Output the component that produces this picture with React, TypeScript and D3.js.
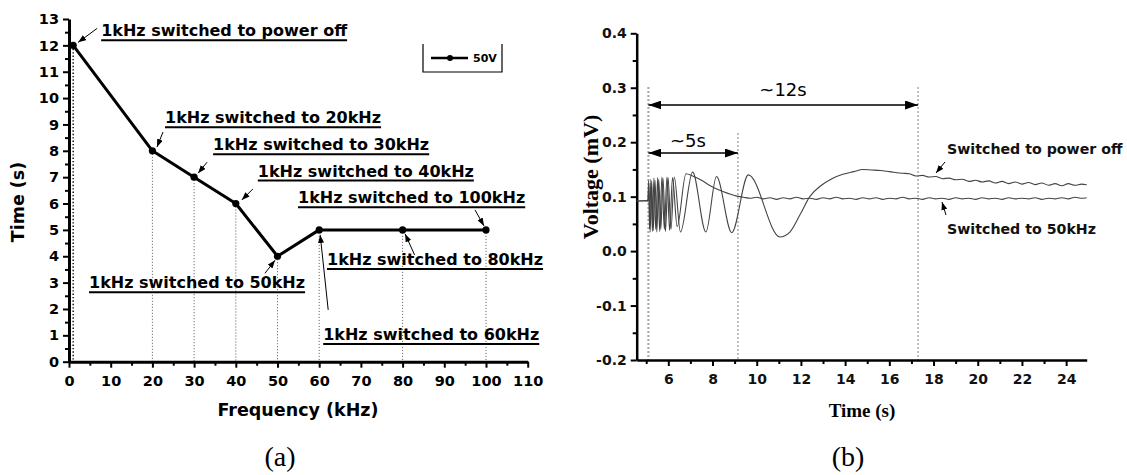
import React, { useEffect, useRef } from "react";
import * as d3 from "d3";

// panel (a): switching time vs frequency
const freqs = [1, 20, 30, 40, 50, 60, 80, 100];
const switchTime = [12, 8, 7, 6, 4, 5, 5, 5];
const freqNotes = [
  "1kHz switched to power off",
  "1kHz switched to 20kHz",
  "1kHz switched to 30kHz",
  "1kHz switched to 40kHz",
  "1kHz switched to 50kHz",
  "1kHz switched to 60kHz",
  "1kHz switched to 80kHz",
  "1kHz switched to 100kHz",
];
const seriesName = "50V";

// panel (b): voltage traces (time s, voltage mV)
const powerOff: [number, number][] = [
  [4.57, 0.092], [5.0, 0.093], [5.08, 0.092],
  [5.12, 0.125], [5.18, 0.035], [5.25, 0.128], [5.32, 0.038], [5.4, 0.13], [5.48, 0.035],
  [5.57, 0.132], [5.66, 0.04], [5.76, 0.134], [5.87, 0.036], [5.99, 0.135], [6.12, 0.04],
  [6.27, 0.136], [6.55, 0.035], [7.1, 0.145], [7.7, 0.035], [8.18, 0.137], [8.87, 0.034],
  [9.62, 0.14], [11.05, 0.026], [11.5, 0.035], [12.0, 0.07], [12.4, 0.1], [12.9, 0.12],
  [13.4, 0.133], [13.9, 0.141], [14.4, 0.146], [14.8, 0.15], [15.2, 0.149], [15.6, 0.148],
  [16.0, 0.146], [16.6, 0.143], [16.9, 0.142], [17.2, 0.138], [17.5, 0.139], [17.8, 0.136],
  [18.1, 0.137], [18.4, 0.133], [18.7, 0.134], [19.0, 0.131], [19.3, 0.132], [19.6, 0.128],
  [19.9, 0.13], [20.2, 0.127], [20.5, 0.129], [20.8, 0.125], [21.1, 0.128], [21.4, 0.124],
  [21.7, 0.127], [22.0, 0.123], [22.3, 0.126], [22.6, 0.122], [22.9, 0.125], [23.2, 0.121],
  [23.5, 0.124], [23.8, 0.12], [24.1, 0.124], [24.4, 0.121], [24.7, 0.123], [24.93, 0.122],
];
const to50k: [number, number][] = [
  [4.57, 0.092], [5.0, 0.092], [5.08, 0.093],
  [5.11, 0.13], [5.15, 0.04], [5.21, 0.132], [5.28, 0.036], [5.35, 0.134], [5.43, 0.04],
  [5.52, 0.135], [5.61, 0.036], [5.71, 0.136], [5.82, 0.04], [5.94, 0.136], [6.06, 0.038],
  [6.19, 0.135], [6.4, 0.045], [6.8, 0.142], [7.1, 0.138], [7.5, 0.13], [7.9, 0.12],
  [8.3, 0.112], [8.7, 0.106], [9.1, 0.101], [9.4, 0.099],
  [9.7, 0.097], [10.0, 0.099], [10.3, 0.096], [10.6, 0.098], [10.9, 0.095], [11.2, 0.098],
  [11.5, 0.096], [11.8, 0.099], [12.1, 0.096], [12.4, 0.097], [12.7, 0.095], [13.0, 0.098],
  [13.3, 0.096], [13.6, 0.099], [13.9, 0.096], [14.2, 0.097], [14.5, 0.095], [14.8, 0.098],
  [15.1, 0.096], [15.4, 0.098], [15.7, 0.095], [16.0, 0.097], [16.3, 0.096], [16.6, 0.099],
  [16.9, 0.096], [17.2, 0.097], [17.5, 0.095], [17.8, 0.098], [18.1, 0.096], [18.4, 0.097],
  [18.7, 0.095], [19.0, 0.098], [19.3, 0.096], [19.6, 0.097], [19.9, 0.095], [20.2, 0.098],
  [20.5, 0.096], [20.8, 0.097], [21.1, 0.095], [21.4, 0.098], [21.7, 0.096], [22.0, 0.097],
  [22.3, 0.096], [22.6, 0.098], [22.9, 0.095], [23.2, 0.097], [23.5, 0.096], [23.8, 0.098],
  [24.1, 0.096], [24.4, 0.099], [24.7, 0.097], [24.93, 0.098],
];
const markTimes = [5.1, 9.15, 17.3];
const spanNotes = ["~12s", "~5s"];
const traceNames = ["Switched to power off", "Switched to 50kHz"];

// label offsets (px) relative to each point: text left/baseline, arrow start, arrow end
const noteLayout = [
  { dx: 28, dy: -9, ax: 24, ay: -17, bx: 5, by: -3 },
  { dx: 12.6, dy: -27.5, ax: 10.6, ay: -18.8, bx: 4.6, by: -3.8 },
  { dx: 19, dy: -27, ax: 13, ay: -15, bx: 4, by: -4 },
  { dx: 22, dy: -27, ax: 17, ay: -14.5, bx: 6, by: -3.5 },
  { dx: -188.5, dy: 32, ax: -12.5, ay: 17, bx: -2.5, by: 4 },
  { dx: 4, dy: 110, ax: 9, ay: 80, bx: 1, by: 5 },
  { dx: -75.6, dy: 35, ax: 12, ay: 25, bx: 2.5, by: 4 },
  { dx: -188, dy: -26.6, ax: -11, ay: -20, bx: -2, by: -4 },
];

const W = 1127, H = 475;
const sans = "'DejaVu Sans', sans-serif";
const serif = "'Liberation Serif', 'Times New Roman', serif";

export default function App() {
  const ref = useRef<SVGSVGElement>(null);

  useEffect(() => {
    const svg = d3.select(ref.current);
    svg.selectAll("*").remove();

    const defs = svg.append("defs");
    defs.append("marker").attr("id", "small").attr("markerUnits", "userSpaceOnUse")
      .attr("markerWidth", 8).attr("markerHeight", 6).attr("refX", 8).attr("refY", 3).attr("orient", "auto")
      .append("path").attr("d", "M0,0L8,3L0,6z").attr("fill", "#000");
    defs.append("marker").attr("id", "big").attr("markerUnits", "userSpaceOnUse")
      .attr("markerWidth", 13).attr("markerHeight", 9).attr("refX", 13).attr("refY", 4.5).attr("orient", "auto-start-reverse")
      .append("path").attr("d", "M0,0L13,4.5L0,9z").attr("fill", "#000");

    // ---------------- panel (a)
    const xa = d3.scaleLinear().domain([0, 110]).range([69, 527.7]);
    const ya = d3.scaleLinear().domain([0, 13]).range([361.7, 19]);
    const ga = svg.append("g");

    freqs.forEach((f, i) => {
      ga.append("line").attr("x1", xa(f)).attr("x2", xa(f)).attr("y1", ya(switchTime[i])).attr("y2", ya(0))
        .attr("stroke", i === 0 ? "#000" : "#555").attr("stroke-width", i === 0 ? 1.4 : 1)
        .attr("stroke-dasharray", i === 0 ? "1.4,2" : "1,2");
    });

    const axA = (g, ax) => {
      g.call(ax);
      g.select(".domain").attr("stroke-width", 3);
      g.selectAll(".tick line").attr("stroke-width", 2);
      g.selectAll("text").attr("font-family", sans).attr("font-weight", "bold").attr("font-size", 14.5).attr("fill", "#000");
    };
    ga.append("g").attr("transform", `translate(0,${ya(0)})`)
      .call(d3.axisBottom(xa).tickValues(d3.range(5, 110, 10)).tickSize(4).tickFormat(() => "").tickSizeOuter(0))
      .call(g => { g.select(".domain").remove(); g.selectAll("line").attr("stroke-width", 2); });
    ga.append("g").attr("transform", `translate(0,${ya(0)})`)
      .call(g => axA(g, d3.axisBottom(xa).tickValues(d3.range(0, 111, 10)).tickSize(6).tickPadding(8).tickSizeOuter(0)));
    ga.append("g").attr("transform", `translate(${xa(0)},0)`)
      .call(d3.axisLeft(ya).tickValues(d3.range(0.5, 13, 1)).tickSize(4).tickFormat(() => "").tickSizeOuter(0))
      .call(g => { g.select(".domain").remove(); g.selectAll("line").attr("stroke-width", 2); });
    ga.append("g").attr("transform", `translate(${xa(0)},0)`)
      .call(g => axA(g, d3.axisLeft(ya).tickValues(d3.range(0, 14, 1)).tickSize(6).tickPadding(4).tickSizeOuter(0)));

    const pts = freqs.map((f, i) => [xa(f), ya(switchTime[i])] as [number, number]);
    ga.append("path").attr("d", d3.line()(pts)).attr("fill", "none").attr("stroke", "#000").attr("stroke-width", 3).attr("stroke-linejoin", "round");
    ga.selectAll("circle.pt").data(pts).join("circle").attr("class", "pt")
      .attr("cx", d => d[0]).attr("cy", d => d[1]).attr("r", 3.6).attr("fill", "#000");

    freqNotes.forEach((t, i) => {
      const [px, py] = pts[i];
      const L = noteLayout[i];
      const tx = ga.append("text").attr("x", px + L.dx).attr("y", py + L.dy).text(t)
        .attr("font-family", sans).attr("font-weight", "bold").attr("font-size", 16);
      const len = (tx.node() as SVGTextElement).getComputedTextLength();
      ga.append("line").attr("x1", px + L.dx).attr("x2", px + L.dx + len)
        .attr("y1", py + L.dy + 4).attr("y2", py + L.dy + 4).attr("stroke", "#000").attr("stroke-width", 2);
      ga.append("line").attr("x1", px + L.ax).attr("y1", py + L.ay).attr("x2", px + L.bx).attr("y2", py + L.by)
        .attr("stroke", "#000").attr("stroke-width", 1).attr("marker-end", "url(#small)");
    });

    // legend
    const lg = ga.append("g");
    lg.append("path").attr("d", "M423,44V72H502V44").attr("fill", "none").attr("stroke", "#000").attr("stroke-width", 1.2);
    lg.append("line").attr("x1", 431).attr("x2", 468).attr("y1", 58).attr("y2", 58).attr("stroke", "#000").attr("stroke-width", 2.5);
    lg.append("circle").attr("cx", 450).attr("cy", 58).attr("r", 3).attr("fill", "#000");
    lg.append("text").attr("x", 473).attr("y", 62).text(seriesName)
      .attr("font-family", sans).attr("font-weight", "bold").attr("font-size", 11);

    ga.append("text").attr("x", 298).attr("y", 416).attr("text-anchor", "middle").text("Frequency (kHz)")
      .attr("font-family", sans).attr("font-weight", "bold").attr("font-size", 17.5);
    ga.append("text").attr("transform", "translate(24,202) rotate(-90)").attr("text-anchor", "middle").text("Time (s)")
      .attr("font-family", sans).attr("font-weight", "bold").attr("font-size", 17.5);
    ga.append("text").attr("x", 280).attr("y", 466).attr("text-anchor", "middle").text("(a)")
      .attr("font-family", serif).attr("font-size", 28);

    // ---------------- panel (b)
    const xb = d3.scaleLinear().domain([4.57, 24.93]).range([636.7, 1086.7]);
    const yb = d3.scaleLinear().domain([-0.2, 0.4]).range([360, 33.3]);
    const gb = svg.append("g");

    const markTop = [87, 133, 87];
    markTimes.forEach((t, i) => {
      gb.append("line").attr("x1", xb(t)).attr("x2", xb(t)).attr("y1", markTop[i]).attr("y2", yb(-0.2))
        .attr("stroke", "#aaa").attr("stroke-width", i === 0 ? 2.2 : 1.5).attr("stroke-dasharray", "2,2");
    });

    const axB = (g, ax) => {
      g.call(ax);
      g.select(".domain").attr("stroke-width", 2.5);
      g.selectAll(".tick line").attr("stroke-width", 2);
      g.selectAll("text").attr("font-family", sans).attr("font-weight", "bold").attr("font-size", 14).attr("fill", "#111");
    };
    const fmt = d3.format(".1f");
    gb.append("g").attr("transform", `translate(0,${yb(-0.2)})`)
      .call(d3.axisBottom(xb).tickValues(d3.range(5, 25, 2)).tickSize(4).tickFormat(() => "").tickSizeOuter(0))
      .call(g => { g.select(".domain").remove(); g.selectAll("line").attr("stroke-width", 2); });
    gb.append("g").attr("transform", `translate(0,${yb(-0.2)})`)
      .call(g => axB(g, d3.axisBottom(xb).tickValues(d3.range(6, 25, 2)).tickSize(6).tickPadding(8).tickSizeOuter(0)));
    gb.append("g").attr("transform", `translate(${xb.range()[0]},0)`)
      .call(d3.axisLeft(yb).tickValues(d3.range(-0.15, 0.4, 0.1)).tickSize(4).tickFormat(() => "").tickSizeOuter(0))
      .call(g => { g.select(".domain").remove(); g.selectAll("line").attr("stroke-width", 2); });
    gb.append("g").attr("transform", `translate(${xb.range()[0]},0)`)
      .call(g => axB(g, d3.axisLeft(yb).tickValues([-0.2, -0.1, 0, 0.1, 0.2, 0.3, 0.4])
        .tickFormat(d => fmt(d as number).replace("\u2212", "-")).tickSize(6).tickPadding(4).tickSizeOuter(0)));

    const trace = d3.line<[number, number]>().x(d => xb(d[0])).y(d => yb(d[1])).curve(d3.curveMonotoneX);
    [powerOff, to50k].forEach(s => {
      gb.append("path").attr("d", trace(s)).attr("fill", "none").attr("stroke", "#444").attr("stroke-width", 1.1);
    });

    // span arrows
    const spans = [[markTimes[0], markTimes[2], 105, 96], [markTimes[0], markTimes[1], 153, 146.5]];
    spans.forEach(([a, b, y, ty], i) => {
      gb.append("line").attr("x1", xb(a)).attr("x2", xb(b)).attr("y1", y).attr("y2", y)
        .attr("stroke", "#000").attr("stroke-width", 1.3)
        .attr("marker-start", "url(#big)").attr("marker-end", "url(#big)");
      gb.append("text").attr("x", i === 0 ? 783 : 688).attr("y", ty).attr("text-anchor", "middle").text(spanNotes[i])
        .attr("font-family", sans).attr("font-size", 18);
    });

    const traceLabel = [
      { x: 947, y: 154, a: [945, 162], b: [936, 173] },
      { x: 947, y: 234, a: [946, 215], b: [942, 202] },
    ];
    traceNames.forEach((t, i) => {
      const L = traceLabel[i];
      gb.append("text").attr("x", L.x).attr("y", L.y).text(t)
        .attr("font-family", sans).attr("font-weight", "bold").attr("font-size", 14.2).attr("fill", "#111");
      gb.append("line").attr("x1", L.a[0]).attr("y1", L.a[1]).attr("x2", L.b[0]).attr("y2", L.b[1])
        .attr("stroke", "#000").attr("stroke-width", 1).attr("marker-end", "url(#small)");
    });

    gb.append("text").attr("x", 862).attr("y", 417).attr("text-anchor", "middle").text("Time (s)")
      .attr("font-family", serif).attr("font-weight", "bold").attr("font-size", 19);
    gb.append("text").attr("transform", "translate(598,177) rotate(-90)").attr("text-anchor", "middle").text("Voltage (mV)")
      .attr("font-family", serif).attr("font-weight", "bold").attr("font-size", 22);
    gb.append("text").attr("x", 848).attr("y", 466).attr("text-anchor", "middle").text("(b)")
      .attr("font-family", serif).attr("font-size", 28);
  }, []);

  return (
    <svg ref={ref} width={W} height={H} style={{ position: "absolute", left: 0, top: 0, background: "#fff" }} />
  );
}
